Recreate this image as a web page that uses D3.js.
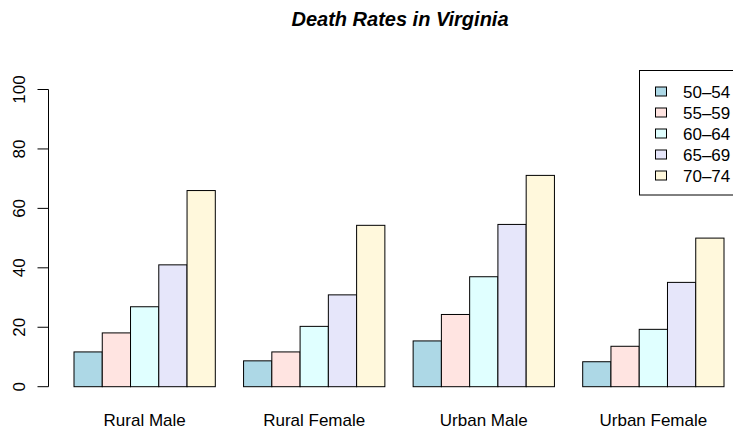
<!DOCTYPE html>
<html><head><meta charset="utf-8">
<script src="https://cdn.jsdelivr.net/npm/d3@7"></script>
<style>body{margin:0;background:#fff}svg{display:block;font-family:"Liberation Sans",Arial,sans-serif}</style>
</head><body><svg id="c" width="733" height="432"></svg>
<script>
const categories = ["Rural Male","Rural Female","Urban Male","Urban Female"];
const ageGroups = ["50\u201354","55\u201359","60\u201364","65\u201369","70\u201374"];
const s5054 = [11.7, 8.7, 15.4, 8.4];
const s5559 = [18.1, 11.7, 24.3, 13.6];
const s6064 = [26.9, 20.3, 37.0, 19.3];
const s6569 = [41.0, 30.9, 54.6, 35.1];
const s7074 = [66.0, 54.3, 71.1, 50.0];
const colors = ["lightblue","mistyrose","lightcyan","lavender","cornsilk"];
const yTicks = [0,20,40,60,80,100];
const series = [s5054,s5559,s6064,s6569,s7074];

const svg = d3.select("#c");
// R-style: bar units 1..24 map to 74..724
const x = d3.scaleLinear().domain([1,24]).range([74,724]);
const y = d3.scaleLinear().domain([0,100]).range([386.7,89.5]);

categories.forEach((cat,gi)=>{
  series.forEach((s,si)=>{
    const left = 1 + gi*6 + si;
    svg.append("rect")
      .attr("x", x(left)).attr("y", y(s[gi]))
      .attr("width", x(left+1)-x(left)).attr("height", y(0)-y(s[gi]))
      .attr("fill", colors[si]).attr("stroke","#000").attr("stroke-width",1);
  });
  svg.append("text").attr("x", x(1+gi*6+2.5)).attr("y", 426)
    .attr("text-anchor","middle").attr("font-size",17).text(cat);
});

// y axis
const ax = svg.append("g").attr("transform","translate(48.5,0)");
ax.append("line").attr("x1",0).attr("x2",0).attr("y1",y(0)).attr("y2",y(100)).attr("stroke","#000");
yTicks.forEach(t=>{
  ax.append("line").attr("x1",-11).attr("x2",0).attr("y1",y(t)).attr("y2",y(t)).attr("stroke","#000");
  svg.append("text").attr("transform",`translate(24.5,${y(t)}) rotate(-90)`)
    .attr("text-anchor","middle").attr("font-size",17).text(t);
});

// title
svg.append("text").attr("x",400).attr("y",26).attr("text-anchor","middle")
  .attr("font-size",20).attr("font-weight","bold").attr("font-style","italic")
  .text("Death Rates in Virginia");

// legend
const lg = svg.append("g");
lg.append("rect").attr("x",639.5).attr("y",70.5).attr("width",110).attr("height",124.5)
  .attr("fill","#fff").attr("stroke","#000");
ageGroups.forEach((a,i)=>{
  const cy = 91.5 + i*21;
  lg.append("rect").attr("x",655.5).attr("y",cy-4.5).attr("width",11).attr("height",9)
    .attr("fill",colors[i]).attr("stroke","#000");
  lg.append("text").attr("x",683).attr("y",cy+6).attr("font-size",17).text(a);
});
</script></body></html>
